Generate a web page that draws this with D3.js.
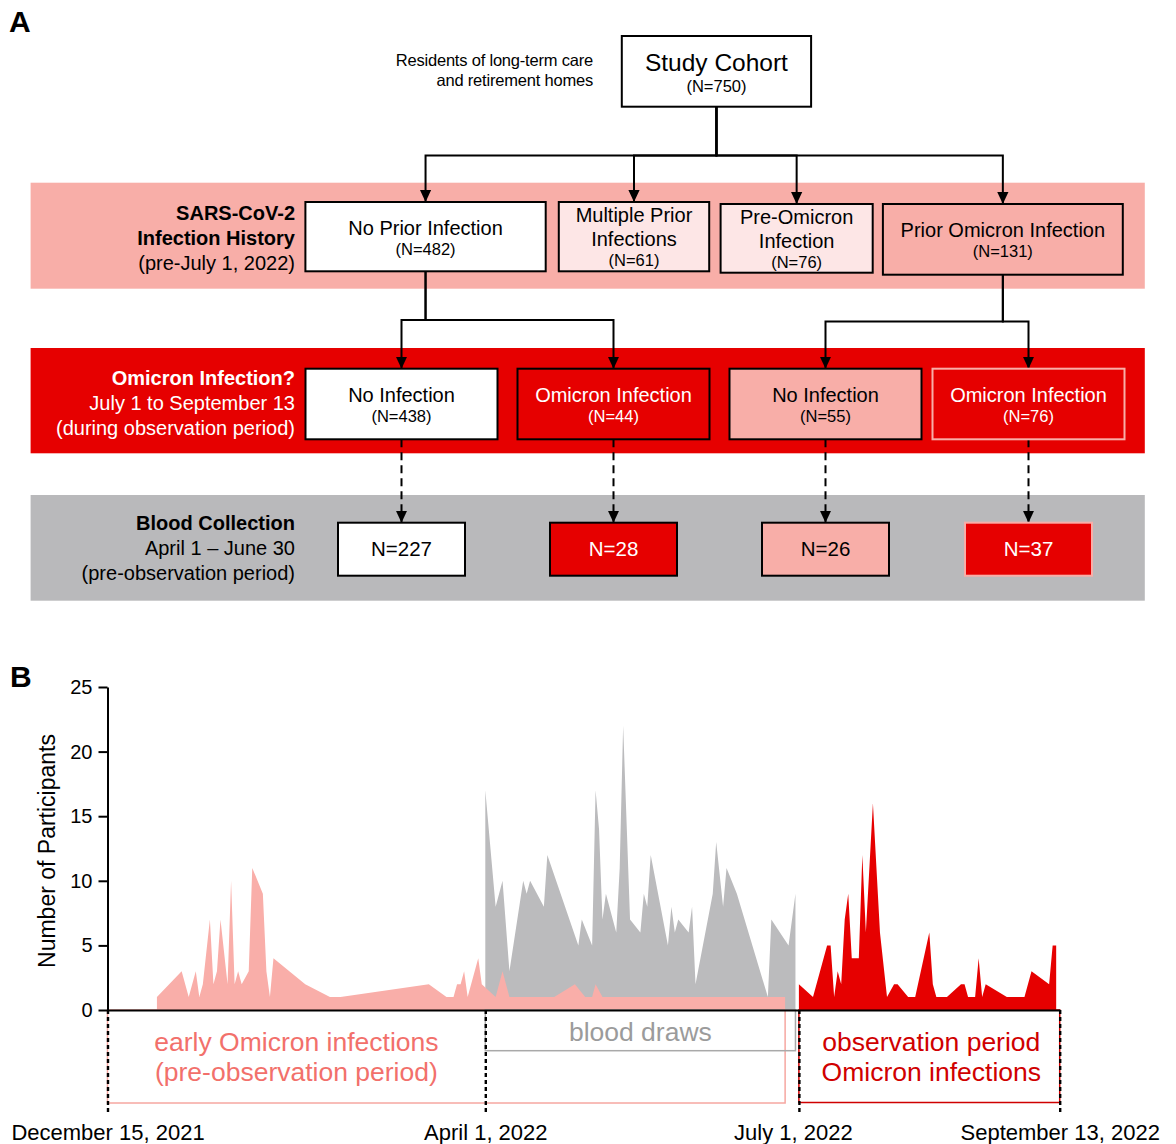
<!DOCTYPE html>
<html>
<head>
<meta charset="utf-8">
<script src="https://cdn.jsdelivr.net/npm/d3@7"></script>
<style>
  html, body { margin: 0; padding: 0; background: #fff; }
  svg { display: block; font-family: Arial, "Liberation Sans", Helvetica, sans-serif; }
</style>
</head>
<body>
<svg id="fig" width="1176" height="1144"></svg>
<script>
// ---------- Panel A: cohort flow ----------
const cohortTitle = "Study Cohort";
const cohortN = 750;
const cohortNote = ["Residents of long-term care", "and retirement homes"];

const historyLabels = [["No Prior Infection"], ["Multiple Prior", "Infections"], ["Pre-Omicron", "Infection"], ["Prior Omicron Infection"]];
const historyN = [482, 61, 76, 131];

const outcomeLabels = ["No Infection", "Omicron Infection", "No Infection", "Omicron Infection"];
const outcomeN = [438, 44, 55, 76];
const outcomeParent = [0, 0, 3, 3];

const bloodN = [227, 28, 26, 37];

const rowTitles = [
  ["SARS-CoV-2", "Infection History", "(pre-July 1, 2022)"],
  ["Omicron Infection?", "July 1 to September 13", "(during observation period)"],
  ["Blood Collection", "April 1 \u2013 June 30", "(pre-observation period)"]
];
const rowTitleBold = [2, 1, 1]; // leading lines set in bold

// ---------- Panel B: daily participant counts ----------
const earlyDates = ["2021-12-29","2022-01-05","2022-01-07","2022-01-09","2022-01-10","2022-01-11","2022-01-13","2022-01-14","2022-01-15","2022-01-16",
  "2022-01-18","2022-01-19","2022-01-20","2022-01-21","2022-01-22","2022-01-24","2022-01-25","2022-01-28","2022-01-29","2022-01-30",
  "2022-01-31","2022-02-09","2022-02-16","2022-02-19","2022-03-16","2022-03-21","2022-03-23","2022-03-24","2022-03-25","2022-03-26",
  "2022-03-27","2022-03-30","2022-03-31","2022-04-04","2022-04-06","2022-04-08","2022-04-21","2022-04-27","2022-04-30","2022-05-02",
  "2022-05-03","2022-05-05","2022-06-27"];
const earlyCounts = [1,3,1,3,1,2,7,2,3,7, 2,10,2,3,2,3,11,9,3,1, 4,2,1,1,2,1,1,2,2,3, 1,4,2,1,3,1,1,2,1,1, 2,1,1];

const drawDates = ["2022-04-01","2022-04-04","2022-04-06","2022-04-08","2022-04-12","2022-04-13","2022-04-14","2022-04-18","2022-04-19","2022-04-28",
  "2022-04-29","2022-05-02","2022-05-03","2022-05-04","2022-05-05","2022-05-06","2022-05-09","2022-05-10","2022-05-11","2022-05-13",
  "2022-05-16","2022-05-17","2022-05-18","2022-05-19","2022-05-24","2022-05-25","2022-05-26","2022-05-27","2022-05-30","2022-05-31",
  "2022-06-01","2022-06-06","2022-06-07","2022-06-09","2022-06-10","2022-06-13","2022-06-22","2022-06-23","2022-06-28","2022-06-30"];
const drawCounts = [17,8,10,3,10,9,10,8,12,5, 7,5,17,14,7,9,6,11,22,7, 6,9,8,12,5,8,6,7,6,8, 2,9,13,8,11,9,1,7,5,9];

const obsDates = ["2022-07-01","2022-07-05","2022-07-09","2022-07-10","2022-07-11","2022-07-12","2022-07-13","2022-07-14","2022-07-15","2022-07-16",
  "2022-07-18","2022-07-19","2022-07-20","2022-07-22","2022-07-24","2022-07-26","2022-07-28","2022-07-29","2022-08-01","2022-08-03",
  "2022-08-07","2022-08-08","2022-08-09","2022-08-12","2022-08-16","2022-08-17","2022-08-18","2022-08-20","2022-08-21","2022-08-22",
  "2022-08-23","2022-08-29","2022-09-03","2022-09-05","2022-09-10","2022-09-11","2022-09-12"];
const obsCounts = [2,1,5,5,1,3,2,7,9,4, 4,12,6,16,6,1,2,2,1,1, 6,2,1,1,2,2,1,1,4,1, 2,1,1,3,2,5,5];

const axisDates = ["2021-12-15", "2022-04-01", "2022-07-01", "2022-09-13"];
const axisLabels = ["December 15, 2021", "April 1, 2022", "July 1, 2022", "September 13, 2022"];
const yTicks = [0, 5, 10, 15, 20, 25];
const periodLabels = [["early Omicron infections", "(pre-observation period)"], ["blood draws"], ["observation period", "Omicron infections"]];

// ---------- styles ----------
const PINK = "#f8aea8", RED = "#e60000", GREY = "#b9b9bb", BLUSH = "#fde6e6";
const AREA_PINK = "#f9aea9", AREA_GREY = "#bbbbbd", AREA_RED = "#e60000";
const BOX_FONT = 20, N_FONT = 16.5;

const svg = d3.select("#fig");

svg.append("text").attr("x", 9).attr("y", 32).attr("font-size", 30).attr("font-weight", "bold").text("A");
svg.append("text").attr("x", 10).attr("y", 687).attr("font-size", 30).attr("font-weight", "bold").text("B");

// arrowhead
svg.append("defs").append("marker")
  .attr("id", "arrow").attr("viewBox", "0 0 12 12").attr("refX", 12).attr("refY", 6)
  .attr("markerWidth", 12).attr("markerHeight", 12).attr("markerUnits", "userSpaceOnUse").attr("orient", "auto")
  .append("path").attr("d", "M0,0.4L12,6L0,11.6Z").attr("fill", "#000");

// ---------- Panel A layout ----------
const gA = svg.append("g");
const bandX0 = 30.6, bandX1 = 1144.8;
const bands = [
  { y0: 182.7, y1: 288.7, fill: PINK, ink: "#000" },
  { y0: 348, y1: 453.3, fill: RED, ink: "#fff" },
  { y0: 495, y1: 600.7, fill: GREY, ink: "#000" }
];
bands.forEach(b => gA.append("rect").attr("x", bandX0).attr("y", b.y0)
  .attr("width", bandX1 - bandX0).attr("height", b.y1 - b.y0).attr("fill", b.fill));

// row titles at the left of each band
const titleTop = [213.3, 378.3, 523.3];
rowTitles.forEach((lines, r) => {
  lines.forEach((t, k) => {
    gA.append("text").attr("x", 295).attr("y", titleTop[r] + k * 24.7).attr("dy", "0.35em")
      .attr("text-anchor", "end").attr("font-size", 20).attr("font-weight", k < rowTitleBold[r] ? "bold" : "normal")
      .attr("fill", bands[r].ink).text(t);
  });
});

// cohort box + note
const cohortBox = { x0: 621.8, x1: 811.1, y0: 36, y1: 106.7 };
cohortNote.forEach((t, k) => gA.append("text").attr("x", 593).attr("y", 60.7 + k * 20).attr("dy", "0.35em")
  .attr("text-anchor", "end").attr("font-size", 16.5).attr("letter-spacing", -0.2).text(t));

// box geometry
const row1Box = [
  { x0: 305.4, x1: 545.7, y0: 202, y1: 271.3 },
  { x0: 558.8, x1: 709.2, y0: 202, y1: 271.3 },
  { x0: 720.6, x1: 872.7, y0: 204, y1: 272.7 },
  { x0: 882.9, x1: 1122.8, y0: 204, y1: 274.7 }
];
const lowerCx = [401.5, 613.5, 825.5, 1028.5];
const row2Box = lowerCx.map(c => ({ x0: c - 96, x1: c + 96, y0: 368.7, y1: 439.3 }));
const row3Box = lowerCx.map(c => ({ x0: c - 63.5, x1: c + 63.5, y0: 522.7, y1: 575.7 }));
const cx = b => (b.x0 + b.x1) / 2;

const row1Fill = ["#fff", BLUSH, BLUSH, PINK];
const lowerFill = ["#fff", RED, PINK, RED];
const lowerStroke = ["#000", "#000", "#000", PINK];
const lowerInk = ["#000", "#fff", "#000", "#fff"];

// connectors
const gLinks = gA.append("g").attr("fill", "none").attr("stroke", "#000").attr("stroke-width", 2);
const link = (d, dashed) => gLinks.append("path").attr("d", d)
  .attr("stroke-dasharray", dashed ? "8,5" : null).attr("marker-end", "url(#arrow)");

row1Box.forEach(b => link(`M${cx(cohortBox)},${cohortBox.y1}V155.5H${cx(b)}V${b.y0}`));
row2Box.forEach((b, i) => {
  const p = row1Box[outcomeParent[i]];
  const barY = outcomeParent[i] === 0 ? 320 : 321.5;
  link(`M${cx(p)},${p.y1}V${barY}H${cx(b)}V${b.y0}`);
});
row3Box.forEach((b, i) => link(`M${cx(b)},${row2Box[i].y1}V${b.y0}`, true));

// boxes
const drawBox = (b, fill, stroke) => gA.append("rect").attr("x", b.x0).attr("y", b.y0)
  .attr("width", b.x1 - b.x0).attr("height", b.y1 - b.y0)
  .attr("fill", fill).attr("stroke", stroke).attr("stroke-width", 2);
const label = (x, yy, t, size, ink) => gA.append("text").attr("x", x).attr("y", yy).attr("dy", "0.35em")
  .attr("text-anchor", "middle").attr("font-size", size).attr("fill", ink).text(t);

drawBox(cohortBox, "#fff", "#000");
label(cx(cohortBox), 62.7, cohortTitle, 24.5, "#000");
label(cx(cohortBox), 86.7, `(N=${cohortN})`, N_FONT, "#000");

row1Box.forEach((b, i) => {
  drawBox(b, row1Fill[i], "#000");
  const lines = historyLabels[i];
  if (lines.length === 1) {
    label(cx(b), b.y0 + 26, lines[0], BOX_FONT, "#000");
    label(cx(b), b.y0 + 47, `(N=${historyN[i]})`, N_FONT, "#000");
  } else {
    label(cx(b), b.y0 + 13, lines[0], BOX_FONT, "#000");
    label(cx(b), b.y0 + 37, lines[1], BOX_FONT, "#000");
    label(cx(b), b.y0 + 58, `(N=${historyN[i]})`, N_FONT, "#000");
  }
});

row2Box.forEach((b, i) => {
  drawBox(b, lowerFill[i], lowerStroke[i]);
  label(cx(b), b.y0 + 26.6, outcomeLabels[i], BOX_FONT, lowerInk[i]);
  label(cx(b), b.y0 + 48, `(N=${outcomeN[i]})`, N_FONT, lowerInk[i]);
});

row3Box.forEach((b, i) => {
  drawBox(b, lowerFill[i], lowerStroke[i]);
  label(cx(b), (b.y0 + b.y1) / 2, `N=${bloodN[i]}`, 20.5, lowerInk[i]);
});

// ---------- Panel B: timeline of counts ----------
const parse = d3.timeParse("%Y-%m-%d");
const toSeries = (dates, counts) => dates.map((d, i) => ({ date: parse(d), value: counts[i] }));
const early = toSeries(earlyDates, earlyCounts);
const draws = toSeries(drawDates, drawCounts);
const obs = toSeries(obsDates, obsCounts);
const marks = axisDates.map(parse);

const x = d3.scaleTime().domain(marks).range([107.5, 485.3, 798.9, 1059.7]);
const y = d3.scaleLinear().domain([0, 25]).range([1010, 687]);

const gB = svg.append("g");
const area = d3.area().x(d => x(d.date)).y0(y(0)).y1(d => y(d.value));

gB.append("path").datum(draws).attr("d", area).attr("fill", AREA_GREY);
gB.append("path").datum(early).attr("d", area).attr("fill", AREA_PINK);
gB.append("path").datum(obs).attr("d", area).attr("fill", AREA_RED);

// period frames under the axis
const frames = [
  { x0: x(marks[0]), x1: x(early[early.length - 1].date), y1: 1103, stroke: "#f6a7a1", ink: "#f2706b", cxp: (x(marks[0]) + x(marks[1])) / 2, rows: [1041.7, 1071.7] },
  { x0: x(marks[1]), x1: x(draws[draws.length - 1].date), y1: 1050.7, stroke: "#a9a9a9", ink: "#9b9b9b", cxp: (x(marks[1]) + x(draws[draws.length - 1].date)) / 2, rows: [1031.7] },
  { x0: x(marks[2]), x1: x(marks[3]), y1: 1102.5, stroke: "#cf0000", ink: "#d00000", cxp: (x(marks[2]) + x(marks[3])) / 2 + 2, rows: [1041.7, 1071.7] }
];
frames.forEach((f, i) => {
  gB.append("rect").attr("x", f.x0).attr("y", y(0)).attr("width", f.x1 - f.x0).attr("height", f.y1 - y(0))
    .attr("fill", "none").attr("stroke", f.stroke).attr("stroke-width", 1.5);
  periodLabels[i].forEach((t, k) => gB.append("text").attr("x", f.cxp).attr("y", f.rows[k]).attr("dy", "0.35em")
    .attr("text-anchor", "middle").attr("font-size", 26.5).attr("fill", f.ink).text(t));
});

// x axis: dashed drop lines at the period boundaries
const labelShift = [0, 0, -6, 0];
const xAxis = gB.append("g").attr("transform", `translate(0,${y(0)})`)
  .call(d3.axisBottom(x).tickValues(marks).tickFormat((d, i) => axisLabels[i])
    .tickSizeInner(105).tickSizeOuter(0).tickPadding(9));
xAxis.attr("font-family", null).attr("font-size", null);
xAxis.select(".domain").attr("stroke", "#000").attr("stroke-width", 2);
xAxis.selectAll(".tick line").attr("stroke", "#000").attr("stroke-width", 2.4).attr("stroke-dasharray", "4,3");
xAxis.selectAll(".tick text").attr("font-size", 22).attr("fill", "#000").attr("dx", (d, i) => labelShift[i]);

// y axis
const yAxis = gB.append("g").attr("transform", `translate(${x(marks[0])},0)`)
  .call(d3.axisLeft(y).tickValues(yTicks).tickSize(9).tickSizeOuter(0).tickPadding(6));
yAxis.attr("font-family", null).attr("font-size", null);
yAxis.select(".domain").attr("stroke", "#000").attr("stroke-width", 2);
yAxis.selectAll(".tick line").attr("stroke", "#000").attr("stroke-width", 2);
yAxis.selectAll(".tick text").attr("font-size", 20).attr("fill", "#000");

gB.append("text").attr("transform", "translate(46.5,851) rotate(-90)").attr("dy", "0.35em")
  .attr("text-anchor", "middle").attr("font-size", 23).text("Number of Participants");
</script>
</body>
</html>
